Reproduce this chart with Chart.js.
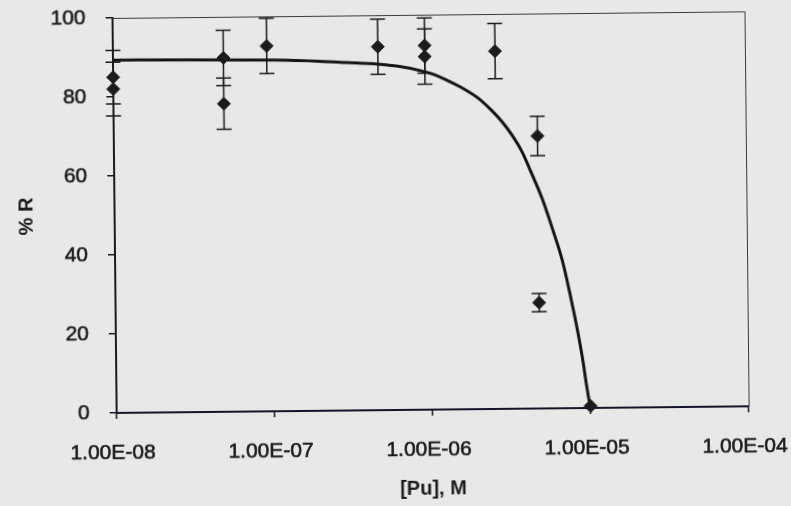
<!DOCTYPE html>
<html>
<head>
<meta charset="utf-8">
<script src="https://cdn.jsdelivr.net/npm/chart.js@4/dist/chart.umd.min.js"></script>
<style>
  html, body { margin: 0; padding: 0; background: #e7e9e7; overflow: hidden; }
  #wrap { width: 791px; height: 506px; }
  /* the source is a slightly tilted scan */
  #sorptionChart { transform: rotate(-0.6deg); }
</style>
</head>
<body>
<div id="wrap"><canvas id="sorptionChart" width="791" height="506"></canvas></div>
<script>
// Axis ticks
const xTicks = [1e-8, 1e-7, 1e-6, 1e-5, 1e-4];
const xTickLabels = ['1.00E-08', '1.00E-07', '1.00E-06', '1.00E-05', '1.00E-04'];

// Measured points: [Pu] (M), % R and error (+/-)
const puConc = [1e-8, 1e-8, 5e-8, 5e-8, 9.4e-8, 4.75e-7, 9.4e-7, 9.4e-7, 2.62e-6, 4.8e-6, 4.8e-6, 1e-5];
const pctR = [85, 82, 89.6, 78, 92.5, 92, 92.2, 89.4, 90.6, 69, 26.8, 0.5];
const errR = [6.8, 6.8, 7, 6.5, 7, 7, 7, 7, 7, 5, 2.3, 0];

// Fitted curve
const fitConc = [1e-8, 3e-8, 1e-7, 2e-7, 3e-7, 4.75e-7, 6.37e-7, 8.9e-7, 1.06e-6, 1.26e-6, 1.59e-6,
                 2.04e-6, 2.47e-6, 2.86e-6, 3.3e-6, 3.82e-6, 4.42e-6, 5.12e-6, 5.92e-6, 6.75e-6,
                 7.26e-6, 7.8e-6, 8.39e-6, 9.03e-6, 9.45e-6, 9.86e-6, 1e-5];
const fitR = [89.3, 89.2, 88.9, 88.5, 88.1, 87.6, 87.0, 85.8, 84.9, 83.6, 81.5,
              78.7, 75.6, 72.8, 69.4, 65.1, 59.2, 52.9, 45.2, 37.6,
              32, 25.9, 19.3, 11.6, 5.8, 1.2, 0];

const ink = '#1b1b1b';
const tickFont = { family: "'Liberation Sans', Arial, sans-serif", size: 21 };
const titleFont = { family: "'Liberation Sans', Arial, sans-serif", size: 20, weight: 'bold' };

// Plot area frame (top + right) and error bars
const errorBars = {
    id: 'errorBars',
    beforeDatasetsDraw(chart) {
        const { ctx, chartArea: a, scales } = chart;
        ctx.save();
        ctx.strokeStyle = '#3a3a3a';
        ctx.lineWidth = 1;
        ctx.beginPath();
        ctx.moveTo(a.left, a.top + 0.5);
        ctx.lineTo(a.right + 0.5, a.top + 0.5);
        ctx.lineTo(a.right + 0.5, a.bottom);
        ctx.stroke();

        ctx.strokeStyle = ink;
        ctx.lineWidth = 1.5;
        puConc.forEach((c, i) => {
            if (!errR[i]) return;
            const x = scales.x.getPixelForValue(c);
            const y1 = scales.y.getPixelForValue(pctR[i] + errR[i]);
            const y2 = scales.y.getPixelForValue(pctR[i] - errR[i]);
            ctx.beginPath();
            ctx.moveTo(x, y1); ctx.lineTo(x, y2);
            ctx.moveTo(x - 7.5, y1); ctx.lineTo(x + 7.5, y1);
            ctx.moveTo(x - 7.5, y2); ctx.lineTo(x + 7.5, y2);
            ctx.stroke();
        });
        ctx.restore();
    }
};

const ctx = document.getElementById('sorptionChart').getContext('2d');
new Chart(ctx, {
    data: {
        datasets: [{
            type: 'scatter',
            data: puConc.map((c, i) => ({ x: c, y: pctR[i] })),
            pointStyle: 'rectRot',
            pointRadius: 6.5,
            backgroundColor: ink,
            borderColor: ink,
            clip: false,
            order: 0
        }, {
            type: 'line',
            data: fitConc.map((c, i) => ({ x: c, y: fitR[i] })),
            borderColor: '#141414',
            borderWidth: 3,
            pointRadius: 0,
            cubicInterpolationMode: 'monotone',
            fill: false,
            order: 1
        }]
    },
    options: {
        responsive: false,
        animation: false,
        devicePixelRatio: 1,
        layout: { padding: { top: 15, right: 44, left: 0, bottom: 0 } },
        plugins: {
            legend: { display: false },
            tooltip: { enabled: false }
        },
        scales: {
            x: {
                type: 'logarithmic',
                min: 1e-8,
                max: 1e-4,
                afterBuildTicks: scale => { scale.ticks = xTicks.map(v => ({ value: v })); },
                afterFit: scale => {
                    scale.height = 96;
                    scale.paddingLeft = 0;
                    scale.paddingRight = 0;
                },
                ticks: {
                    autoSkip: false,
                    maxRotation: 0,
                    padding: 22,
                    labelOffset: -4,
                    color: ink,
                    font: tickFont,
                    textStrokeColor: ink,
                    textStrokeWidth: 0.6,
                    callback: (value, index) => xTickLabels[index]
                },
                grid: { drawOnChartArea: false, drawTicks: true, tickLength: 6, color: ink, lineWidth: 1.5 },
                border: { display: true, color: '#15152a', width: 2 },
                title: { display: true, text: '[Pu], M', color: ink, font: titleFont, padding: { top: 0, bottom: 5 } }
            },
            y: {
                min: 0,
                max: 100,
                afterFit: scale => {
                    scale.width = 115;
                    scale.paddingTop = 0;
                    scale.paddingBottom = 0;
                },
                ticks: {
                    stepSize: 20,
                    padding: 20,
                    color: ink,
                    font: tickFont,
                    textStrokeColor: ink,
                    textStrokeWidth: 0.6
                },
                grid: { drawOnChartArea: false, drawTicks: true, tickLength: 7, color: ink, lineWidth: 1.5 },
                border: { display: true, color: ink, width: 2 },
                title: { display: true, text: '% R', color: ink, font: titleFont, padding: { top: 15, bottom: 0 } }
            }
        }
    },
    plugins: [errorBars]
});
</script>
</body>
</html>
